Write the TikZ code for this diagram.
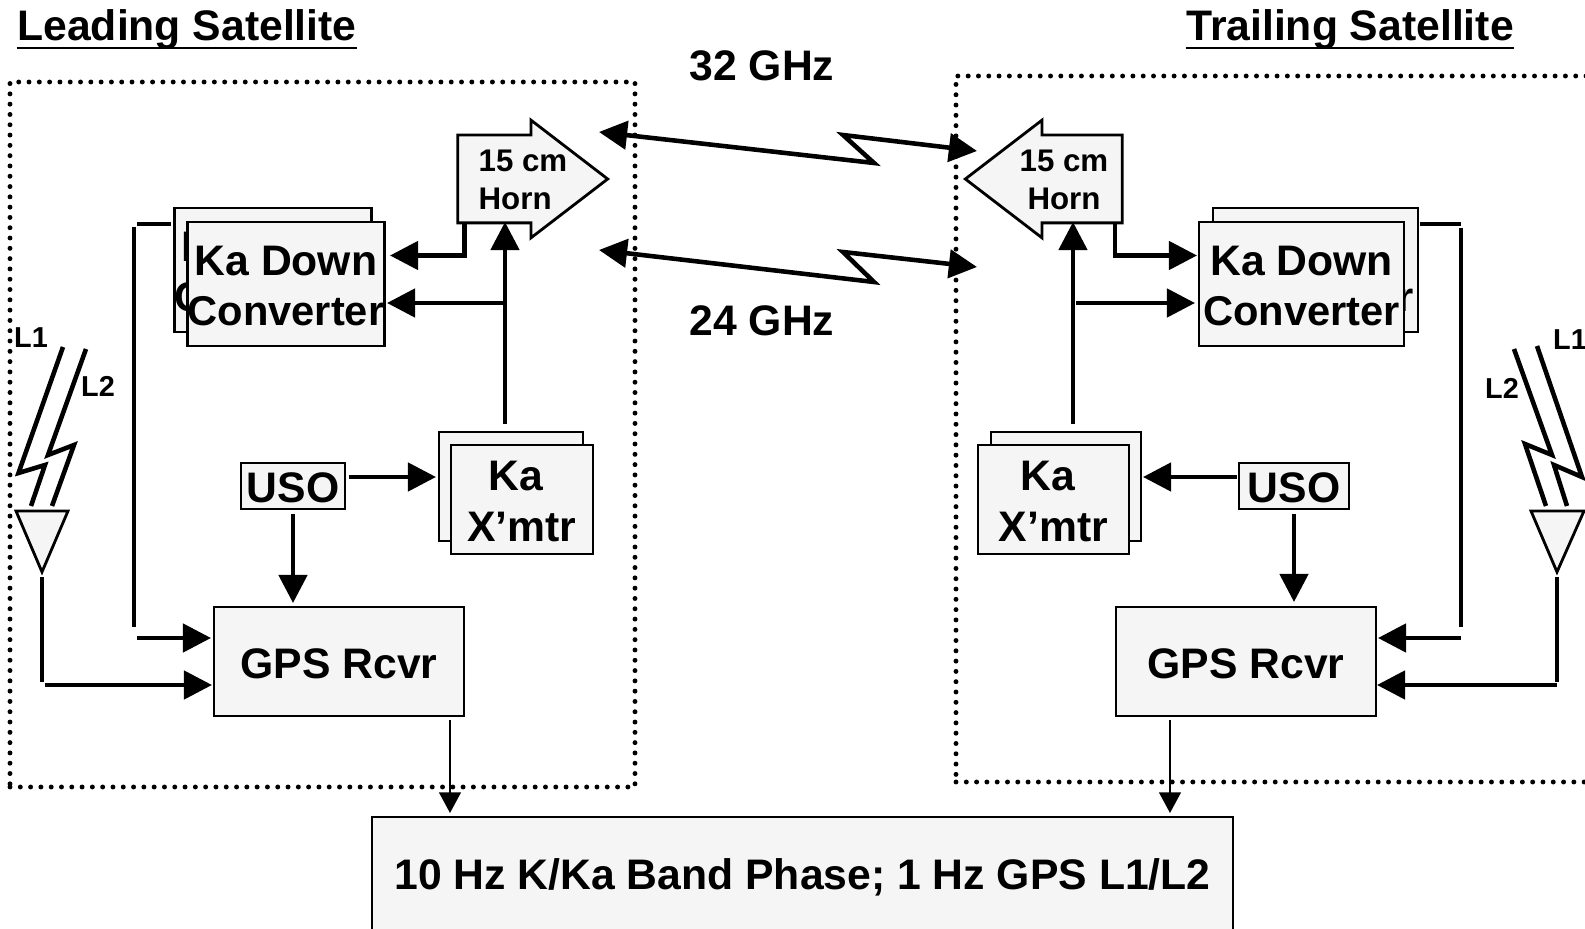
\documentclass[tikz,border=0pt]{standalone}
\usepackage{fontspec}
\setmainfont{Liberation Sans}
\usetikzlibrary{arrows.meta,shapes.arrows}
\definecolor{boxGray}{HTML}{F5F5F5}
\newcommand{\lowtext}[1]{\raisebox{-0.6pt}[\height][\depth]{#1}}
\newcommand{\convlabel}{\lowtext{Ka Down}\\\lowtext{\fontsize{11.85}{14.4}\selectfont Converter}}
\newcommand{\xmtrlabel}{\lowtext{Ka\ \mbox{}}\\\lowtext{X’mtr}}

\begin{document}
\begin{tikzpicture}[x=0.1mm,y=-0.1mm,
    bigtext/.style={font=\fontsize{12.15}{14.4}\selectfont\bfseries},
    box/.style={draw,line width=0.8pt,fill=boxGray,inner sep=0pt,align=center,bigtext},
    convbox/.style={box,minimum height=12.4mm},
    xmtrbox/.style={box,minimum height=10.9mm},
    usobox/.style={box,minimum height=4.6mm},
    gpsbox/.style={box,minimum height=10.9mm},
    satbox/.style={draw,line width=1.4pt,line cap=round,dash pattern=on 0pt off 2.93pt,inner sep=0pt},
    horn/.style={single arrow,draw,line width=0.8pt,fill=boxGray,inner sep=0pt,
                 single arrow head indent=0pt,minimum width=11.5mm,
                 single arrow head extend=1.5mm,single arrow tip angle=75,anchor=tip},
    horntext/.style={font=\fontsize{8.9}{10.8}\selectfont\bfseries},
    bandtext/.style={font=\fontsize{8.2}{9}\selectfont\bfseries,inner sep=0pt},
    title/.style={bigtext,inner sep=0pt},
    headline/.style={line width=0.7pt},
    wire/.style={line width=1.3pt},
    link/.style={wire,-{Triangle[length=8pt,width=8pt]}},
    rflink/.style={wire,{Triangle[length=8pt,width=8pt]}-{Triangle[length=8pt,width=8pt]}},
    thinlink/.style={line width=0.65pt,-{Triangle[length=5.9pt,width=6.2pt]}},
    ant/.style={draw,line width=0.8pt,fill=boxGray,line join=miter}]

  \useasboundingbox (0,0) rectangle (1585,929);

  \node[satbox,minimum width=62.5mm,minimum height=70.5mm] (leadBox) at (322.5,434.5) {};
  \node[satbox,minimum width=68.8mm,minimum height=70.6mm] (trailBox) at (1300,429) {};

  \node[title,anchor=base] (leadTitle) at (187,41) {Leading Satellite};
  \node[title,anchor=base] (trailTitle) at (1350,41) {Trailing Satellite};
  \draw[headline] ([yshift=-0.7mm]leadTitle.base west) -- ([yshift=-0.7mm]leadTitle.base east);
  \draw[headline] ([yshift=-0.7mm]trailTitle.base west) -- ([yshift=-0.7mm]trailTitle.base east);
  \node[title] (upper) at (762,66) {32 GHz};
  \node[title] (lower) at (762,321) {24 GHz};

  \node[horn,minimum height=15mm] (hornL) at (610,179) {\rule{0pt}{8.5mm}};
  \node[horn,minimum height=15.7mm,shape border rotate=180] (hornR) at (963,179) {\rule{0pt}{8.5mm}};
  \node[horntext,align=left] (hornLtext) at (523,180) {15 cm\\Horn};
  \node[horntext,align=center] (hornRtext) at (1064,180) {15 cm\\Horn};

  \node[convbox,minimum width=19.6mm] (convLback) at (273,270) {\convlabel};
  \node[convbox,minimum width=19.6mm] (convL) at (286,284) {\convlabel};
  \node[convbox,minimum width=20.5mm] (convRback) at (1315.5,270) {\convlabel};
  \node[convbox,minimum width=20.5mm] (convR) at (1301.5,284) {\convlabel};

  \node[xmtrbox,minimum width=14.4mm] (xmtrLback) at (511,486.5) {};
  \node[xmtrbox,minimum width=14.2mm] (xmtrL) at (522,499.5) {\xmtrlabel};
  \node[xmtrbox,minimum width=15mm] (xmtrRback) at (1066,486.5) {};
  \node[xmtrbox,minimum width=15.1mm] (xmtrR) at (1053.5,499.5) {\xmtrlabel};

  \node[usobox,minimum width=10.4mm] (usoL) at (293,486) {\lowtext{USO}};
  \node[usobox,minimum width=11mm] (usoR) at (1294,486) {\lowtext{USO}};

  \node[gpsbox,minimum width=25mm] (gpsL) at (339,661.5) {\lowtext{GPS Rcvr}};
  \node[gpsbox,minimum width=26mm] (gpsR) at (1246,661.5) {\lowtext{GPS Rcvr}};

  \node[box,minimum width=86.1mm,minimum height=11.6mm] (phase) at (802.5,875)
    {\lowtext{10 Hz K/Ka Band Phase; 1 Hz GPS L1/L2}};

  \coordinate (rfUpL) at (599,132);
  \coordinate (rfUpR) at (977,151);
  \coordinate (rfLowL) at (599,250);
  \coordinate (rfLowR) at (977,267);
  \draw[rflink] (rfUpL) -- (874,163) -- (843,135) -- (rfUpR);
  \draw[rflink] (rfLowL) -- (874,282) -- (843,252) -- (rfLowR);

  % horn and oscillator feeds
  \draw[link] (464.5,222) -- (464.5,255.5) -- (390,255.5);
  \draw[link] (505,424) -- (505,222);
  \draw[link] (505,303) -- (387,303);
  \draw[link] (1115,222) -- (1115,255.5) -- (1197,255.5);
  \draw[link] (1073,424) -- (1073,222);
  \draw[link] (1076,303) -- (1195,303);
  \draw[link] (usoL.east) ++(3,-9) -- (436,477);
  \draw[link] (usoR.west) ++(-1,-9) -- (1143,477);
  \draw[link] (usoL.south) ++(0,4) -- (293,603);
  \draw[link] (usoR.south) ++(0,4) -- (1294,602);

  % converter output to receiver
  \draw[wire] (171,224) -- (137,224);
  \draw[wire] (134,227) -- (134,627);
  \draw[link] (137,638) -- (211,638);
  \draw[wire] (1420,224) -- (1461,224);
  \draw[wire] (1461,228) -- (1461,627);
  \draw[link] (1461,638) -- (1378,638);

  % antennas
  \draw[wire] (63,347) -- (18.5,473) -- (45,465) -- (31,506);
  \draw[wire] (86,349) -- (48,455) -- (74,445) -- (52,506);
  \draw[wire] (1537,346) -- (1582,477) -- (1554,465) -- (1567,506);
  \draw[wire] (1514,349) -- (1552,455) -- (1525,444) -- (1546,506);
  \draw[ant] (16,511) -- (68,511) -- (42,572) -- cycle;
  \draw[ant] (1531,511) -- (1584,511) -- (1557,572) -- cycle;
  \node[bandtext] (l1L) at (31,338) {L1};
  \node[bandtext] (l2L) at (98,386) {L2};
  \node[bandtext] (l1R) at (1570,340) {L1};
  \node[bandtext] (l2R) at (1502,388) {L2};
  \draw[wire] (42,577) -- (42,682);
  \draw[link] (45,685) -- (212,685);
  \draw[wire] (1557,577) -- (1557,682);
  \draw[link] (1557,685) -- (1377,685);

  \draw[thinlink] (gpsL.south -| 450,0) ++(0,3) -- (450,813);
  \draw[thinlink] (gpsR.south -| 1170,0) ++(0,3) -- (1170,813);
\end{tikzpicture}
\end{document}
